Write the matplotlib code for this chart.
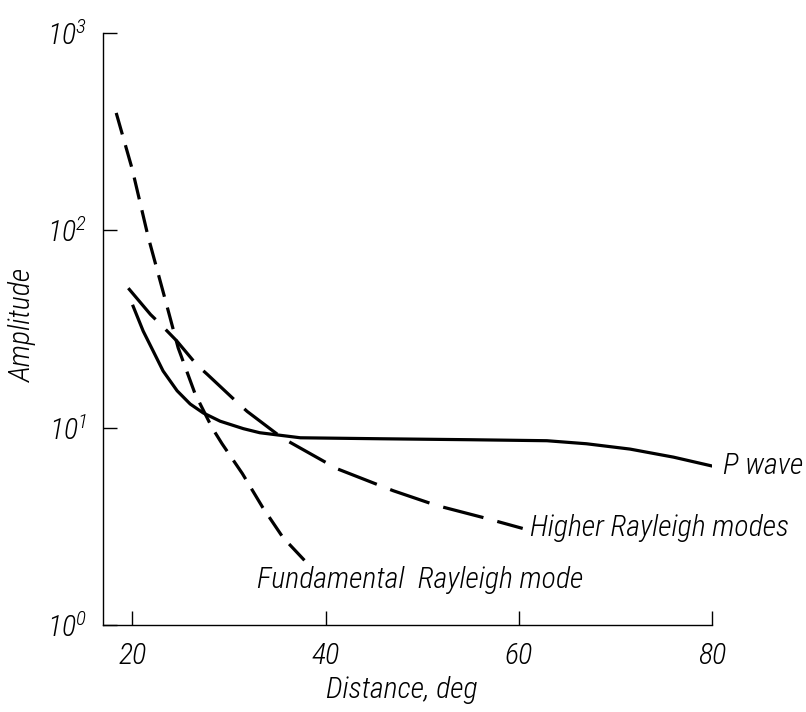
import matplotlib
matplotlib.use("Agg")
import matplotlib.pyplot as plt

# values (distance in deg, amplitude)
fund_x = [18.35, 20.0, 21.65, 23.4, 24.76, 26.5, 28.27, 29.3, 31.4,
          33.5, 35.6, 38.1]
fund_y = [394, 205, 93, 45, 25.4, 14.9, 10.0, 8.3, 5.86,
          3.95, 2.78, 2.06]

higher_x = [19.6, 21.9, 22.9, 24.6, 26.7, 27.8, 30.9, 31.9, 35.5, 41.2,
            47.0, 51.5, 56.3, 60.4]
higher_y = [51, 37.5, 33.6, 27.6, 20.8, 18.6, 13.4, 12.1, 8.9, 6.2,
            4.8, 4.04, 3.51, 3.09]

p_x = [20.1, 21.14, 22.17, 23.2, 24.65, 26.0, 27.34, 29.1, 31.5, 33.2,
       37.4, 45.6, 55.0, 62.9, 67.0, 71.5, 76.0, 80.0]
p_y = [41.3, 30.9, 24.5, 19.4, 15.4, 13.2, 11.9, 10.8, 9.9, 9.44,
       8.9, 8.8, 8.7, 8.6, 8.3, 7.8, 7.1, 6.4]

xticks = [20, 40, 60, 80]
yticks = [1, 10, 100, 1000]
ytick_labels = [r"$\mathregular{10^{0}}$", r"$\mathregular{10^{1}}$",
                r"$\mathregular{10^{2}}$", r"$\mathregular{10^{3}}$"]

plt.rcParams["font.family"] = ["Roboto Condensed", "DejaVu Sans"]
plt.rcParams["font.style"] = "italic"
plt.rcParams["font.stretch"] = "condensed"
plt.rcParams["font.weight"] = "light"

fs = 21.5

fig = plt.figure(figsize=(8.06, 7.12), dpi=100)
ax = fig.add_axes([0.128, 0.122, 0.7556, 0.8315])

lw = 2.3
ax.plot(fund_x, fund_y, color="black", lw=lw, dashes=(7, 3.5))
ax.plot(higher_x, higher_y, color="black", lw=lw, dashes=(13, 4.5))
ax.plot(p_x, p_y, color="black", lw=lw)

ax.set_yscale("log")
ax.set_xlim(17, 80)
ax.set_ylim(1, 1000)
ax.set_xticks(xticks)
ax.set_xticklabels([str(t) for t in xticks], fontsize=fs)
ax.set_yticks(yticks)
ax.set_yticklabels(ytick_labels, fontsize=fs)
ax.minorticks_off()
ax.tick_params(direction="in", length=10, width=1, pad=12)

for s in ["top", "right"]:
    ax.spines[s].set_visible(False)
for s in ["left", "bottom"]:
    ax.spines[s].set_linewidth(1)

ax.text(81.1, 6.43, "P wave", fontsize=fs, va="center", ha="left")
ax.text(61.2, 3.09, "Higher Rayleigh modes", fontsize=fs, va="center", ha="left")
ax.text(32.9, 1.69, "Fundamental  Rayleigh mode", fontsize=fs, va="center", ha="left")

fig.text(23 / 806, 1 - 325 / 712, "Amplitude", fontsize=fs, rotation=90,
         ha="center", va="center")
fig.text(402 / 806, 1 - 690 / 712, "Distance, deg", fontsize=fs,
         ha="center", va="center")

fig.savefig("out.png", dpi=100)
